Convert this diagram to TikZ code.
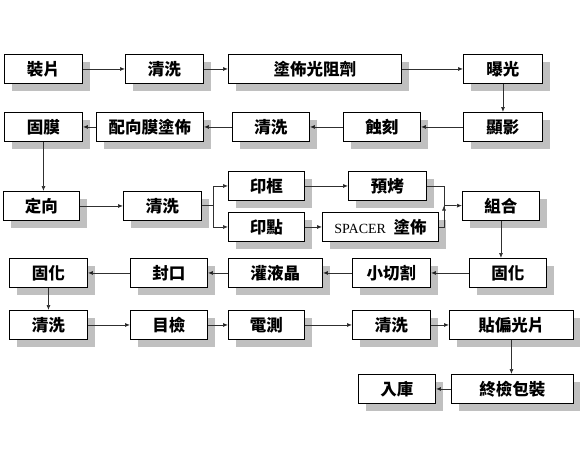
\documentclass[tikz,border=0pt]{standalone}
\usepackage{fontspec}
\newfontfamily\cjk{Noto Sans CJK TC}
\newfontfamily\spfont{Liberation Serif}
\usepackage{tikz}
\usetikzlibrary{arrows.meta,shadows}
\definecolor{shadowgray}{HTML}{C0C0C0}
\definecolor{linegray}{HTML}{303030}

\begin{document}
\begin{tikzpicture}[x=1pt, y=-1pt,
		proc/.style={draw=black, line width=0.9pt, fill=white, anchor=north west,
			minimum height=29pt, minimum width=78pt, inner sep=0pt,
			font=\cjk\bfseries\fontsize{16.5}{16.5}\selectfont,
			general shadow={fill=shadowgray, shadow xshift=8pt, shadow yshift=-8pt}},
		flow/.style={draw=linegray, line width=0.7pt},
		>={Latex[length=5pt,width=4pt]}]
		\useasboundingbox (0,0) rectangle (580,466);
		% row 1
		\node[proc] (zp) at (4,54) {裝片};
		\node[proc] (qx1) at (125,54) {清洗};
		\node[proc, minimum width=173pt] (tb) at (228,54) {塗佈光阻劑};
		\node[proc, minimum width=79pt] (bg) at (463,54) {曝光};
		% row 2
		\node[proc] (gm) at (4,112) {固膜};
		\node[proc, minimum width=107pt] (px) at (96,112) {配向膜塗佈};
		\node[proc, minimum width=77pt] (qx2) at (232,112) {清洗};
		\node[proc, minimum width=77pt] (sk) at (343,112) {蝕刻};
		\node[proc, minimum width=79pt] (xy) at (463,112) {顯影};
		% row 3
		\node[proc, minimum width=76pt] (dx) at (3,191) {定向};
		\node[proc] (qx3) at (123,191) {清洗};
		\node[proc, minimum width=76pt] (yk) at (228,171) {印框};
		\node[proc, minimum width=76pt] (yd) at (228,212) {印點};
		\node[proc] (yh) at (348,171) {預烤};
		\node[proc, minimum width=116pt] (sp) at (322,212) {{\spfont\mdseries\fontsize{14}{14}\selectfont SPACER}\ \ 塗佈};
		\node[proc, minimum width=77pt] (zh) at (462,191) {組合};
		% row 4
		\node[proc] (gh2) at (9,258) {固化};
		\node[proc, minimum width=77pt] (fk) at (130,258) {封口};
		\node[proc, minimum width=94pt] (gy) at (228,258) {灌液晶};
		\node[proc] (xq) at (352,258) {小切割};
		\node[proc, minimum width=77pt] (gh1) at (469,258) {固化};
		% row 5
		\node[proc] (qx4) at (9,310) {清洗};
		\node[proc, minimum width=77pt] (mj) at (130,310) {目檢};
		\node[proc, minimum width=76pt] (dc) at (228,310) {電測};
		\node[proc] (qx5) at (352,310) {清洗};
		\node[proc, minimum width=124pt] (tp) at (449,310) {貼偏光片};
		% row 6
		\node[proc, minimum width=77pt] (rk) at (358,374) {入庫};
		\node[proc, minimum width=122pt] (zj) at (451,374) {終檢包裝};
		\coordinate (fork) at (213,205.5);
		\coordinate (merge) at (444,205.5);

		\path[flow,->]
		(zp) edge (qx1)
		(qx1) edge (tb)
		(tb) edge (bg)
		(bg) edge (xy)
		(xy) edge (sk)
		(sk) edge (qx2)
		(qx2) edge (px)
		(px) edge (gm)
		(dx) edge (qx3)
		(yk) edge (yh)
		(yd) edge (sp)
		(merge) edge (zh)
		(gh1) edge (xq)
		(xq) edge (gy)
		(gy) edge (fk)
		(fk) edge (gh2)
		(qx4) edge (mj)
		(mj) edge (dc)
		(dc) edge (qx5)
		(qx5) edge (tp)
		(zj) edge (rk)
		;
		\draw[flow,->] (gm.south) -- (gm.south |- dx.north);
		\draw[flow,->] (zh.south) -- (zh.south |- gh1.north);
		\draw[flow,->] (gh2.south) -- (gh2.south |- qx4.north);
		\draw[flow,->] (tp.south) -- (tp.south |- zj.north);
		\draw[flow] (qx3) -- (fork);
		\draw[flow,->] (fork) |- (yk);
		\draw[flow,->] (fork) |- (yd);
		\draw[flow] (yh) -| (merge);
		\draw[flow] (sp) -| (merge);
	\end{tikzpicture}
\end{document}
